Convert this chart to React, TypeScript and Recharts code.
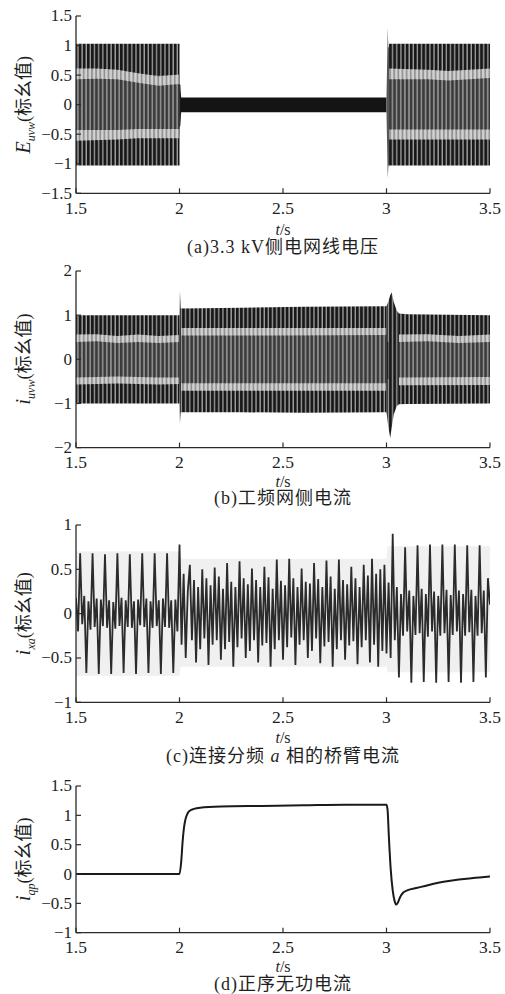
import React from "react";
import { ComposedChart, Area, Line, XAxis, YAxis } from "recharts";

const SERIF = "'Liberation Serif', 'Noto Sans CJK SC', serif";
const INK = "#1f1f1f";

const xTicks = [1.5, 2, 2.5, 3, 3.5];
const ticksA = [-1.5, -1, -0.5, 0, 0.5, 1, 1.5];
const ticksB = [-2, -1, 0, 1, 2];
const ticksC = [-1, -0.5, 0, 0.5, 1];
const ticksD = [-1, -0.5, 0, 0.5, 1, 1.5];

type Band = [number, number, number][]; // [t, low, high]

// (a) 3.3 kV line voltage, envelope bands
const aOuterLeft: Band = [[1.5, -1.03, 1.03], [1.75, -1.03, 1.03], [2.0, -1.03, 1.03]];
const aInnerLeft: Band = [[1.5, -0.5, 0.5], [2.0, -0.5, 0.5]];
const aLightUpLeft: Band = [[1.5, 0.43, 0.61], [1.6, 0.44, 0.61], [1.7, 0.43, 0.59], [1.8, 0.37, 0.53], [1.9, 0.32, 0.48], [2.0, 0.35, 0.51]];
const aLightLowLeft: Band = [[1.5, -0.61, -0.43], [1.7, -0.59, -0.43], [1.8, -0.57, -0.41], [2.0, -0.57, -0.41]];
const aStep2: Band = [[1.999, -0.38, 0.35], [2.004, -0.36, 0.33], [2.008, -0.13, 0.12]];
const aLow: Band = [[2.004, -0.13, 0.12], [2.5, -0.13, 0.12], [3.0, -0.13, 0.12]];
const aSpike3: Band = [[3.0, -0.13, 0.12], [3.006, -1.25, 1.3], [3.009, -1.05, 0.95], [3.013, -1.0, 1.0]];
const aOuterRight: Band = [[3.012, -1.03, 1.03], [3.5, -1.03, 1.03]];
const aInnerRight: Band = [[3.012, -0.5, 0.5], [3.5, -0.5, 0.5]];
const aLightUpRight: Band = [[3.012, 0.43, 0.61], [3.2, 0.43, 0.59], [3.3, 0.41, 0.57], [3.5, 0.45, 0.61]];
const aLightLowRight: Band = [[3.012, -0.59, -0.42], [3.5, -0.59, -0.42]];

// (b) grid side current
const bOuterLeft: Band = [[1.5, -1.0, 1.0], [2.0, -1.0, 1.0]];
const bInnerLeft: Band = [[1.5, -0.45, 0.45], [2.0, -0.45, 0.45]];
const bLightUpLeft: Band = [[1.5, 0.39, 0.56], [1.6, 0.41, 0.57], [1.7, 0.37, 0.53], [1.8, 0.39, 0.56], [1.9, 0.37, 0.53], [2.0, 0.39, 0.55]];
const bLightLowLeft: Band = [[1.5, -0.57, -0.41], [1.7, -0.55, -0.39], [1.9, -0.57, -0.41], [2.0, -0.56, -0.41]];
const bStep2: Band = [[1.999, -0.55, 0.5], [2.002, -1.45, 1.55], [2.006, -1.2, 1.15], [2.01, -1.2, 1.15]];
const bOuterMid: Band = [[2.008, -1.2, 1.15], [2.3, -1.2, 1.17], [2.6, -1.21, 1.19], [3.0, -1.2, 1.2]];
const bInnerMid: Band = [[2.008, -0.58, 0.58], [3.0, -0.58, 0.6]];
const bLightUpMid: Band = [[2.008, 0.54, 0.71], [2.5, 0.54, 0.71], [3.0, 0.55, 0.71]];
const bLightLowMid: Band = [[2.008, -0.71, -0.54], [3.0, -0.71, -0.54]];
const bSpike3: Band = [[3.0, -1.2, 1.2], [3.008, -1.5, 1.3], [3.018, -1.78, 1.45], [3.025, -1.55, 1.52], [3.035, -1.25, 1.3], [3.05, -1.06, 1.1], [3.06, -1.02, 1.04]];
const bLine3: Band = [[3.004, -0.45, 0.4], [3.009, -0.45, 0.4]];
const bOuterRight: Band = [[3.06, -1.02, 1.04], [3.1, -1.01, 1.02], [3.5, -1.0, 1.0]];
const bInnerRight: Band = [[3.06, -0.45, 0.45], [3.5, -0.45, 0.45]];
const bLightUpRight: Band = [[3.06, 0.39, 0.56], [3.2, 0.41, 0.57], [3.35, 0.37, 0.53], [3.5, 0.39, 0.56]];
const bLightLowRight: Band = [[3.06, -0.59, -0.41], [3.5, -0.58, -0.4]];

// (c) arm current, sampled every 10 ms from 1.5 s
const cStart = 1.5;
const cStep = 0.01;
const cValues = [
  0.18, -0.2, 0.68, -0.12, 0.2, -0.67, 0.14, -0.18, 0.68, -0.15,
  0.17, -0.68, 0.16, -0.14, 0.67, -0.16, 0.15, -0.68, 0.13, -0.17,
  0.68, -0.14, 0.18, -0.67, 0.15, -0.15, 0.67, -0.16, 0.14, -0.68,
  0.16, -0.13, 0.68, -0.15, 0.17, -0.67, 0.14, -0.16, 0.68, -0.14,
  0.15, -0.68, 0.17, -0.15, 0.68, -0.16, 0.15, -0.67, 0.16, -0.2,
  0.78, -0.35, 0.45, -0.5, 0.25, 0.55, -0.3, 0.38, -0.55, 0.3,
  -0.4, 0.5, -0.28, 0.4, -0.58, 0.32, -0.35, 0.52, -0.3, 0.42,
  -0.52, 0.28, -0.4, 0.57, -0.32, 0.36, -0.6, 0.3, -0.38, 0.59,
  -0.28, 0.4, -0.5, 0.33, -0.42, 0.51, -0.3, 0.38, -0.55, 0.3,
  -0.36, 0.53, -0.33, 0.41, -0.6, 0.28, -0.4, 0.61, -0.3, 0.37,
  -0.52, 0.32, -0.38, 0.62, -0.27, 0.4, -0.58, 0.3, -0.35, 0.51,
  -0.3, 0.36, -0.5, 0.34, -0.42, 0.57, -0.28, 0.39, -0.56, 0.3,
  -0.37, 0.6, -0.32, 0.42, -0.6, 0.28, -0.4, 0.61, -0.3, 0.38,
  -0.52, 0.33, -0.36, 0.53, -0.31, 0.4, -0.57, 0.3, -0.38, 0.55,
  -0.3, 0.43, -0.55, 0.62, -0.35, 0.45, -0.6, 0.5, -0.42, 0.55,
  -0.45, 0.35, -0.5, 0.9, -0.3, 0.3, -0.72, 0.22, -0.25, 0.75,
  -0.2, 0.26, -0.78, 0.2, -0.24, 0.77, -0.22, 0.28, -0.77, 0.22,
  -0.26, 0.78, -0.2, 0.25, -0.78, 0.2, -0.25, 0.78, -0.22, 0.27,
  -0.77, 0.21, -0.24, 0.78, -0.2, 0.26, -0.78, 0.22, -0.25, 0.77,
  -0.21, 0.27, -0.77, 0.2, -0.25, 0.77, -0.22, 0.26, -0.72, 0.4,
  0.1,
];
const cFuzz: Band = [[1.5, -0.7, 0.7], [2.0, -0.7, 0.7], [2.005, -0.6, 0.62], [3.0, -0.6, 0.62], [3.005, -0.66, 0.76], [3.5, -0.66, 0.76]];

// (d) positive-sequence reactive current
const dTimes = [1.5, 2.0, 2.008, 2.015, 2.022, 2.03, 2.04, 2.05, 2.07, 2.1, 2.2, 2.4, 2.6, 2.8, 3.0, 3.005, 3.012, 3.02, 3.03, 3.04, 3.048, 3.056, 3.065, 3.08, 3.1, 3.15, 3.2, 3.25, 3.3, 3.35, 3.4, 3.45, 3.5];
const dValues = [0, 0, 0.2, 0.55, 0.8, 0.95, 1.04, 1.08, 1.11, 1.13, 1.15, 1.16, 1.17, 1.18, 1.18, 1.1, 0.6, 0.1, -0.28, -0.47, -0.52, -0.48, -0.4, -0.32, -0.28, -0.235, -0.19, -0.15, -0.118, -0.095, -0.075, -0.058, -0.04];

const toRange = (b: Band) => b.map(([t, lo, hi]) => ({ t, v: [lo, hi] }));
const cData = cValues.map((v, i) => ({ t: +(cStart + i * cStep).toFixed(3), v }));
const dData = dTimes.map((t, i) => ({ t, v: dValues[i] }));

const fmt = (v: number) => (v < 0 ? "\u2212" + String(-v) : String(v));

function XTick(props: any) {
  const { x, y, payload } = props;
  return (
    <g>
      <line x1={x} x2={x} y1={y} y2={y - 5} stroke="#2a2a2a" strokeWidth={1.2} />
      <text x={x} y={y + 20.5} textAnchor="middle" fontFamily={SERIF} fontSize={17.5} fill={INK}>
        {fmt(payload.value)}
      </text>
    </g>
  );
}

function YTick(props: any) {
  const { x, y, payload } = props;
  return (
    <g>
      <line x1={x} x2={x + 5} y1={y} y2={y} stroke="#2a2a2a" strokeWidth={1.2} />
      <text x={x - 4} y={y + 5.5} textAnchor="end" fontFamily={SERIF} fontSize={17} fill={INK}>
        {fmt(payload.value)}
      </text>
    </g>
  );
}

function band(b: Band, fill: string, key: string) {
  return (
    <Area
      key={key}
      data={toRange(b)}
      dataKey="v"
      type="linear"
      fill={fill}
      fillOpacity={1}
      stroke="none"
      dot={false}
      activeDot={false}
      isAnimationActive={false}
    />
  );
}

function Panel({ top, height, domain, yTicks, children }: any) {
  return (
    <div style={{ position: "absolute", left: 0, top: top - 10 }}>
      <ComposedChart width={505} height={height + 40} margin={{ top: 10, right: 15, bottom: 0, left: 0 }}>
        <XAxis
          type="number"
          dataKey="t"
          domain={[1.5, 3.5]}
          ticks={xTicks}
          interval={0}
          height={30}
          tickSize={0}
          tickMargin={0}
          tickLine={false}
          axisLine={{ stroke: "#2a2a2a", strokeWidth: 1.3 }}
          tick={(p: any) => <XTick {...p} />}
          allowDataOverflow
        />
        <YAxis
          type="number"
          domain={domain}
          ticks={yTicks}
          interval={0}
          width={76}
          tickSize={0}
          tickMargin={0}
          tickLine={false}
          axisLine={{ stroke: "#2a2a2a", strokeWidth: 1.3 }}
          tick={(p: any) => <YTick {...p} />}
          allowDataOverflow
        />
        {children}
      </ComposedChart>
    </div>
  );
}

function YLabel({ cy, sym, sub }: { cy: number; sym: string; sub: string }) {
  return (
    <text transform={`rotate(-90 30 ${cy})`} x={30} y={cy} textAnchor="middle" fontFamily={SERIF} fontSize={18} fill={INK}>
      <tspan fontStyle="italic" fontSize={20}>{sym}</tspan>
      <tspan fontStyle="italic" fontSize={12} dy={5}>{sub}</tspan>
      <tspan dy={-5}>(标幺值)</tspan>
    </text>
  );
}

function TLabel({ y }: { y: number }) {
  return (
    <text x={283} y={y} textAnchor="middle" fontFamily={SERIF} fontSize={16} fill={INK}>
      <tspan fontStyle="italic">t</tspan>/s
    </text>
  );
}

function Caption({ y, children }: any) {
  return (
    <text x={283} y={y} textAnchor="middle" fontFamily={SERIF} fontSize={18} letterSpacing={1} fill={INK}>
      {children}
    </text>
  );
}

export default function App() {
  return (
    <div style={{ position: "absolute", left: 0, top: 0, width: 505, height: 994, background: "#fff", overflow: "hidden" }}>
      <svg width={0} height={0} style={{ position: "absolute" }}>
        <defs>
          <pattern id="pOuter" patternUnits="userSpaceOnUse" width={4.14} height={8}>
            <rect width={4.14} height={8} fill="#a0a0a0" />
            <rect width={2.8} height={8} fill="#181818" />
          </pattern>
          <pattern id="pInner" patternUnits="userSpaceOnUse" width={4.14} height={8}>
            <rect width={4.14} height={8} fill="#8c8c8c" />
            <rect width={2.4} height={8} fill="#3a3a3a" />
          </pattern>
          <pattern id="pLight" patternUnits="userSpaceOnUse" width={4.14} height={8}>
            <rect width={4.14} height={8} fill="#d2d2d2" />
            <rect width={1.8} height={8} fill="#939393" />
          </pattern>
        </defs>
      </svg>

      <Panel top={16} height={177.3} domain={[-1.5, 1.5]} yTicks={ticksA}>
        {band(aOuterLeft, "url(#pOuter)", "a1")}
        {band(aInnerLeft, "url(#pInner)", "a2")}
        {band(aLightUpLeft, "url(#pLight)", "a3")}
        {band(aLightLowLeft, "url(#pLight)", "a4")}
        {band(aStep2, "#222", "a5")}
        {band(aLow, "#141414", "a6")}
        {band(aSpike3, "#555", "a7")}
        {band(aOuterRight, "url(#pOuter)", "a8")}
        {band(aInnerRight, "url(#pInner)", "a9")}
        {band(aLightUpRight, "url(#pLight)", "a10")}
        {band(aLightLowRight, "url(#pLight)", "a11")}
      </Panel>

      <Panel top={270.7} height={176.6} domain={[-2, 2]} yTicks={ticksB}>
        {band(bOuterLeft, "url(#pOuter)", "b1")}
        {band(bInnerLeft, "url(#pInner)", "b2")}
        {band(bLightUpLeft, "url(#pLight)", "b3")}
        {band(bLightLowLeft, "url(#pLight)", "b4")}
        {band(bStep2, "#3a3a3a", "b5")}
        {band(bOuterMid, "url(#pOuter)", "b6")}
        {band(bInnerMid, "url(#pInner)", "b7")}
        {band(bLightUpMid, "url(#pLight)", "b8")}
        {band(bLightLowMid, "url(#pLight)", "b9")}
        {band(bSpike3, "url(#pOuter)", "b10")}
        {band(bLine3, "#111", "b11")}
        {band(bOuterRight, "url(#pOuter)", "b12")}
        {band(bInnerRight, "url(#pInner)", "b13")}
        {band(bLightUpRight, "url(#pLight)", "b14")}
        {band(bLightLowRight, "url(#pLight)", "b15")}
      </Panel>

      <Panel top={525} height={177.3} domain={[-1, 1]} yTicks={ticksC}>
        {band(cFuzz, "#f0f0f0", "c0")}
        <Line
          data={cData}
          dataKey="v"
          type="linear"
          stroke="#2b2b2b"
          strokeWidth={1.8}
          dot={false}
          activeDot={false}
          isAnimationActive={false}
        />
      </Panel>

      <Panel top={786} height={146.7} domain={[-1, 1.5]} yTicks={ticksD}>
        <Line
          data={dData}
          dataKey="v"
          type="monotone"
          stroke="#1a1a1a"
          strokeWidth={2}
          dot={false}
          activeDot={false}
          isAnimationActive={false}
        />
      </Panel>

      <svg width={505} height={994} style={{ position: "absolute", left: 0, top: 0, pointerEvents: "none" }}>
        <YLabel cy={104.7} sym="E" sub="uvw" />
        <TLabel y={235} />
        <Caption y={253}>(a)3.3 kV侧电网线电压</Caption>

        <YLabel cy={359} sym="i" sub="uvw" />
        <TLabel y={486.5} />
        <Caption y={504}>(b)工频网侧电流</Caption>

        <YLabel cy={613.7} sym="i" sub="xa" />
        <TLabel y={743} />
        <Caption y={762}>
          (c)连接分频 <tspan fontStyle="italic">a</tspan> 相的桥臂电流
        </Caption>

        <YLabel cy={859.3} sym="i" sub="qp" />
        <TLabel y={972} />
        <Caption y={990}>(d)正序无功电流</Caption>
      </svg>
    </div>
  );
}
